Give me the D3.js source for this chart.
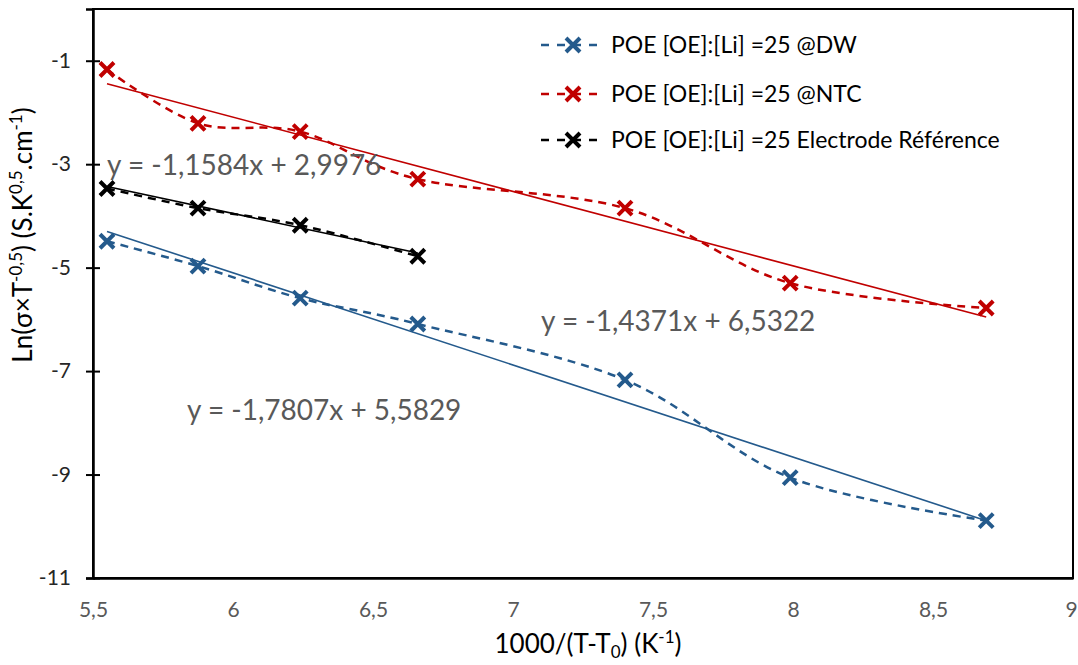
<!DOCTYPE html>
<html><head><meta charset="utf-8">
<script src="https://cdn.jsdelivr.net/npm/d3@7"></script>
<style>body{margin:0;background:#fff;} text{font-family:Lato,"Open Sans",sans-serif;}</style>
</head><body>
<svg id="c" width="1078" height="665"></svg>
<script>
// ---- data ----
const xValues = [5.55, 5.875, 6.24, 6.66, 7.40, 7.99, 8.69];
const dwValues = [-4.49, -4.97, -5.59, -6.09, -7.17, -9.06, -9.89];
const ntcValues = [-1.17, -2.21, -2.37, -3.29, -3.85, -5.30, -5.78];
const refX = [5.55, 5.875, 6.24, 6.66];
const refValues = [-3.47, -3.85, -4.18, -4.78];
const seriesNames = ["POE [OE]:[Li] =25 @DW", "POE [OE]:[Li] =25 @NTC", "POE [OE]:[Li] =25 Electrode Référence"];
const trendSlopes = [-1.7807, -1.4371, -1.1584];
const trendIntercepts = [5.5829, 6.5322, 2.9976];
const trendLabels = ["y = -1,7807x + 5,5829", "y = -1,4371x + 6,5322", "y = -1,1584x + 2,9976"];
const xTicks = [5.5, 6, 6.5, 7, 7.5, 8, 8.5, 9];
const yTicks = [-11, -9, -7, -5, -3, -1];

const colors = ["#245A8C", "#C00000", "#000000"];
const svg = d3.select("#c");
const L = 93, R = 1073, T = 9, B = 578;
const x = d3.scaleLinear().domain([5.5, 9]).range([L, R]);
const y = d3.scaleLinear().domain([-11, 0]).range([B, T]);
const fmt = d => String(d).replace(".", ",");

// frame
svg.append("rect").attr("x", L).attr("y", T).attr("width", R - L).attr("height", B - T)
  .attr("fill", "none").attr("stroke", "#000").attr("stroke-width", 2);

// y axis with crossing ticks
const yAx = svg.append("g").attr("transform", `translate(${L},0)`)
  .call(d3.axisLeft(y).tickValues(yTicks).tickSize(7).tickFormat(fmt));
yAx.select(".domain").attr("stroke", "#000").attr("stroke-width", 2.5);
yAx.selectAll(".tick line").attr("stroke", "#000").attr("stroke-width", 2).attr("x2", 7).attr("x1", -7);
yAx.selectAll(".tick text").attr("x", -22).attr("font-size", 21).attr("fill", "#262626")
  .attr("font-family", "Lato");

const xAx = svg.append("g").attr("transform", `translate(0,${B})`)
  .call(d3.axisBottom(x).tickValues(xTicks).tickSize(0).tickFormat(fmt));
xAx.select(".domain").attr("stroke", "#000").attr("stroke-width", 2.5);
xAx.selectAll(".tick text").attr("y", 24).attr("font-size", 21).attr("fill", "#595959")
  .attr("font-family", "Lato")
  .attr("dx", d => d === 9 ? -2 : 0);

// trendlines
[[xValues, 0], [xValues, 1], [refX, 2]].forEach(([xs, i]) => {
  const x0 = d3.min(xs), x1 = d3.max(xs);
  const pts = [x0, x1].map(v => [v, trendSlopes[i] * v + trendIntercepts[i]]);
  svg.append("path").attr("d", d3.line().x(d => x(d[0])).y(d => y(d[1]))(pts))
    .attr("stroke", colors[i]).attr("stroke-width", 1.6).attr("fill", "none");
});

// series
const series = [
  xValues.map((v, k) => [v, dwValues[k]]),
  xValues.map((v, k) => [v, ntcValues[k]]),
  refX.map((v, k) => [v, refValues[k]])
];
const line = d3.line().x(d => x(d[0])).y(d => y(d[1])).curve(d3.curveCatmullRom.alpha(0));
function cross(g, cx, cy, col) {
  const s = 7;
  g.append("path").attr("d", `M${cx - s},${cy - s}L${cx + s},${cy + s}M${cx - s},${cy + s}L${cx + s},${cy - s}`)
    .attr("stroke", col).attr("stroke-width", 4).attr("fill", "none");
}
series.forEach((s, i) => {
  svg.append("path").attr("d", line(s)).attr("stroke", colors[i]).attr("stroke-width", 2.5)
    .attr("stroke-dasharray", "8,6").attr("fill", "none");
  s.forEach(d => cross(svg, x(d[0]), y(d[1]), colors[i]));
});

// trend equation labels
const eqPos = [[187, 420], [541, 331], [107, 175]];
trendLabels.forEach((t, i) => {
  svg.append("text").attr("x", eqPos[i][0]).attr("y", eqPos[i][1]).text(t)
    .attr("font-size", 28).attr("fill", "#595959");
});

// legend
const legY = [45, 94, 140];
seriesNames.forEach((n, i) => {
  const g = svg.append("g");
  g.append("line").attr("x1", 541).attr("x2", 603).attr("y1", legY[i]).attr("y2", legY[i])
    .attr("stroke", colors[i]).attr("stroke-width", 2.5).attr("stroke-dasharray", "8,8");
  cross(g, 573, legY[i], colors[i]);
  g.append("text").attr("x", 611).attr("y", legY[i] + 8).text(n).attr("font-size", 23).attr("fill", "#000");
});

// axis titles
const xt = svg.append("text").attr("x", 588).attr("y", 653).attr("text-anchor", "middle")
  .attr("font-size", 26).attr("fill", "#000");
xt.append("tspan").text("1000/(T-T");
xt.append("tspan").text("0").attr("font-size", 17).attr("dy", 5);
xt.append("tspan").text(") (K").attr("dy", -5);
xt.append("tspan").text("-1").attr("font-size", 17).attr("dy", -10);
xt.append("tspan").text(")").attr("dy", 10);

const yt = svg.append("text").attr("transform", "translate(32,235) rotate(-90)").attr("text-anchor", "middle")
  .attr("font-size", 26).attr("fill", "#000");
yt.append("tspan").text("Ln(σ×T");
yt.append("tspan").text("-0,5").attr("font-size", 17).attr("dy", -10);
yt.append("tspan").text(") (S.K").attr("dy", 10);
yt.append("tspan").text("0,5").attr("font-size", 17).attr("dy", -10);
yt.append("tspan").text(".cm").attr("dy", 10);
yt.append("tspan").text("-1").attr("font-size", 17).attr("dy", -10);
yt.append("tspan").text(")").attr("dy", 10);
</script>
</body></html>
